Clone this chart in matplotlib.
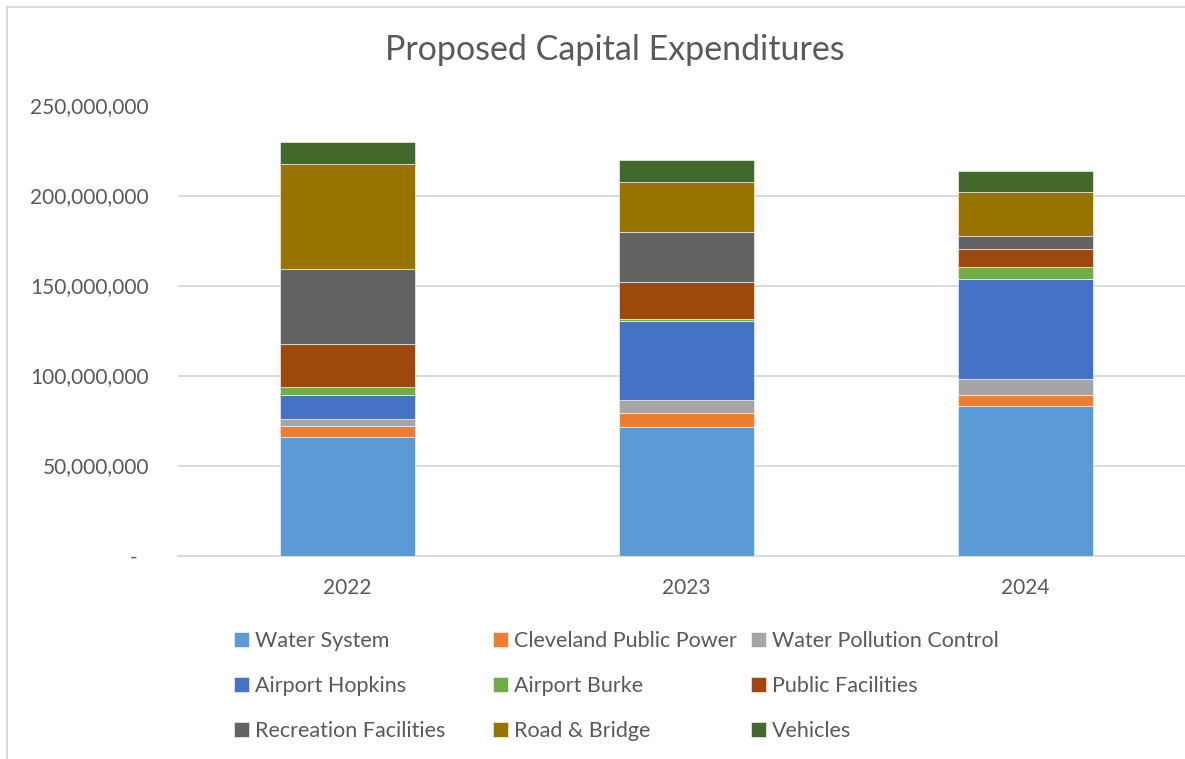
"""Stacked bar chart of proposed capital expenditures by program, 2022-2024."""

import matplotlib

matplotlib.use("Agg")
import matplotlib.pyplot as plt
from matplotlib.lines import Line2D
from matplotlib.ticker import FuncFormatter, MultipleLocator


YEARS = ["2022", "2023", "2024"]

PROGRAMS = [
    "Water System",
    "Cleveland Public Power",
    "Water Pollution Control",
    "Airport Hopkins",
    "Airport Burke",
    "Public Facilities",
    "Recreation Facilities",
    "Road & Bridge",
    "Vehicles",
]

# amounts per program, in dollars, one entry per year
WATER_SYSTEM = [65_700_000, 71_200_000, 82_900_000]
CLEVELAND_PUBLIC_POWER = [6_100_000, 8_100_000, 6_100_000]
WATER_POLLUTION_CONTROL = [4_000_000, 7_100_000, 9_100_000]
AIRPORT_HOPKINS = [13_500_000, 44_000_000, 55_300_000]
AIRPORT_BURKE = [4_100_000, 800_000, 6_700_000]
PUBLIC_FACILITIES = [23_900_000, 20_600_000, 10_000_000]
RECREATION_FACILITIES = [41_700_000, 27_800_000, 7_600_000]
ROAD_AND_BRIDGE = [58_500_000, 27_900_000, 24_100_000]
VEHICLES = [12_000_000, 12_100_000, 12_000_000]

SERIES = [
    WATER_SYSTEM,
    CLEVELAND_PUBLIC_POWER,
    WATER_POLLUTION_CONTROL,
    AIRPORT_HOPKINS,
    AIRPORT_BURKE,
    PUBLIC_FACILITIES,
    RECREATION_FACILITIES,
    ROAD_AND_BRIDGE,
    VEHICLES,
]

COLORS = [
    "#5B9BD5", "#ED7D31", "#A5A5A5",
    "#4472C4", "#70AD47", "#9E480E",
    "#636363", "#997300", "#43682B",
]

WIDTH_PX, HEIGHT_PX = 1185, 759
TEXT_COLOR = "#595959"
GRID_COLOR = "#D9D9D9"
FONT = ["Lato", "DejaVu Sans"]


def _fmt_amount(value, _pos):
    if abs(value) < 1:
        return "-  "
    return f"{value:,.0f}"


def _px(x, y):
    """Pixel position (from the top-left corner) to figure fraction."""
    return x / WIDTH_PX, 1 - y / HEIGHT_PX


def main():
    plt.rcParams["font.family"] = FONT

    fig = plt.figure(figsize=(WIDTH_PX / 100, HEIGHT_PX / 100), dpi=100)
    left, bottom = _px(178, 555.5)
    ax = fig.add_axes([left, bottom, (1195 - 178) / WIDTH_PX, 450 / HEIGHT_PX])

    x = range(len(YEARS))
    base = [0] * len(YEARS)
    bars = []
    for name, values, color in zip(PROGRAMS, SERIES, COLORS):
        bars.append(
            ax.bar(x, values, width=0.4, bottom=base, color=color, label=name,
                   edgecolor="white", linewidth=0.4, zorder=3)
        )
        base = [b + v for b, v in zip(base, values)]

    ax.set_xlim(-0.5, len(YEARS) - 0.5)
    ax.set_ylim(0, 250_000_000)
    ax.yaxis.set_major_locator(MultipleLocator(50_000_000))
    ax.yaxis.set_major_formatter(FuncFormatter(_fmt_amount))
    ax.set_xticks(list(x), YEARS)

    ax.grid(axis="y", color=GRID_COLOR, linewidth=1.3, zorder=0)
    for side in ("top", "right", "left"):
        ax.spines[side].set_visible(False)
    ax.spines["bottom"].set_color(GRID_COLOR)
    ax.spines["bottom"].set_linewidth(1.3)
    ax.tick_params(axis="both", length=0, colors=TEXT_COLOR, labelsize=15)
    ax.tick_params(axis="y", pad=21)
    ax.tick_params(axis="x", pad=16)

    fig.text(*_px(615, 50), "Proposed Capital Expenditures", ha="center", va="center",
             fontsize=24.5, color=TEXT_COLOR)

    # three legend columns of equal width, filled row by row
    for col, x_px in enumerate((236, 495, 753)):
        handles = bars[col::3]
        fig.legend(
            handles, [h.get_label() for h in handles],
            loc="upper left", bbox_to_anchor=_px(x_px - 2, 631),
            frameon=False, fontsize=15.5, labelcolor=TEXT_COLOR,
            handlelength=0.68, handleheight=0.68, handletextpad=0.3,
            labelspacing=1.17, borderpad=0, borderaxespad=0,
        )

    # chart area border (only the left and top edges fall inside the image)
    fig.add_artist(Line2D([6.5 / WIDTH_PX] * 2, [0, 1 - 6.5 / HEIGHT_PX],
                          color=GRID_COLOR, linewidth=1.5))
    fig.add_artist(Line2D([6.5 / WIDTH_PX, 1], [1 - 6.5 / HEIGHT_PX] * 2,
                          color=GRID_COLOR, linewidth=1.5))

    fig.savefig("out.png", dpi=100)
    plt.close(fig)


if __name__ == "__main__":
    main()
